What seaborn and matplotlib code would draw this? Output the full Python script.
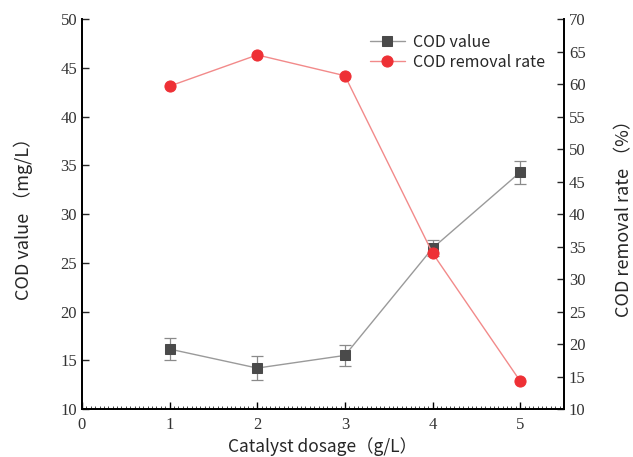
import matplotlib
matplotlib.use("Agg")
import matplotlib.pyplot as plt
import seaborn as sns
import pandas as pd
import numpy as np
from matplotlib.ticker import MultipleLocator

dosage = [1, 2, 3, 4, 5]
cod_value = [16.15, 14.2, 15.5, 26.5, 34.3]
cod_err = [1.1, 1.2, 1.05, 0.8, 1.2]
removal_rate = [59.7, 64.5, 61.3, 34.0, 14.3]

sns.set_theme(style="white")
serif = ["Liberation Serif", "DejaVu Serif"]
sans = ["Noto Sans CJK SC", "DejaVu Sans"]

df = pd.DataFrame({"dosage": dosage, "cod": cod_value, "err": cod_err, "rate": removal_rate})

fig = plt.figure(figsize=(6.33, 4.57), dpi=100)
ax = fig.add_axes([0.1295, 0.105, 0.7615, 0.853])
ax2 = ax.twinx()

gray_line = "#9a9a9a"
gray_mark = "#4a4a4a"
red_line = "#f28a8a"
red_mark = "#ee3035"

ax.errorbar(df["dosage"], df["cod"], yerr=df["err"], fmt="none", ecolor="#8a8a8a",
            elinewidth=0.9, capsize=4, capthick=0.9, zorder=2)
sns.lineplot(data=df, x="dosage", y="cod", ax=ax, color=gray_line, lw=1.0,
             marker="s", markersize=7, markerfacecolor=gray_mark, markeredgecolor=gray_mark,
             label="COD value", zorder=3, legend=False)
sns.lineplot(data=df, x="dosage", y="rate", ax=ax2, color=red_line, lw=1.0,
             marker="o", markersize=8, markerfacecolor=red_mark, markeredgecolor=red_mark,
             label="COD removal rate", zorder=3, legend=False)

ax.set_xlim(0, 5.5)
ax.set_ylim(10, 50)
ax2.set_ylim(10, 70)
ax.xaxis.set_major_locator(MultipleLocator(1))
ax.xaxis.set_minor_locator(MultipleLocator(0.05))
ax.yaxis.set_major_locator(MultipleLocator(5))
ax2.yaxis.set_major_locator(MultipleLocator(5))

for a in (ax, ax2):
    for s in a.spines.values():
        s.set_visible(True)
        s.set_color("black")
        s.set_linewidth(1.3)
ax.spines["top"].set_visible(False)
ax2.spines["top"].set_visible(False)

ax.tick_params(axis="x", which="major", direction="in", length=5, width=1, colors="black",
               labelsize=12, pad=6, bottom=True)
ax.tick_params(axis="x", which="minor", direction="in", length=2.2, width=0.6, bottom=True)
ax.tick_params(axis="y", which="major", direction="in", length=5, width=1, labelsize=12, left=True)
ax2.tick_params(axis="y", which="major", direction="in", length=5, width=1, labelsize=12, right=True)

for lab in ax.get_xticklabels() + ax.get_yticklabels() + ax2.get_yticklabels():
    lab.set_family(serif)
    lab.set_color("#333333")

ax.set_xlabel("Catalyst dosage（g/L）", family=sans, fontsize=12.5, labelpad=3)
ax.set_ylabel("COD value （mg/L）", family=sans, fontsize=13, labelpad=20)
ax2.set_ylabel("COD removal rate （%）", family=sans, fontsize=13, labelpad=21)

h1, l1 = ax.get_legend_handles_labels()
h2, l2 = ax2.get_legend_handles_labels()
leg = ax2.legend(h1 + h2, l1 + l2, loc="upper right", bbox_to_anchor=(0.99, 1.0), frameon=False,
                 prop={"family": sans, "size": 11.5}, handlelength=2.2, handletextpad=0.5,
                 labelspacing=0.2)

fig.savefig("out.png", dpi=100)
